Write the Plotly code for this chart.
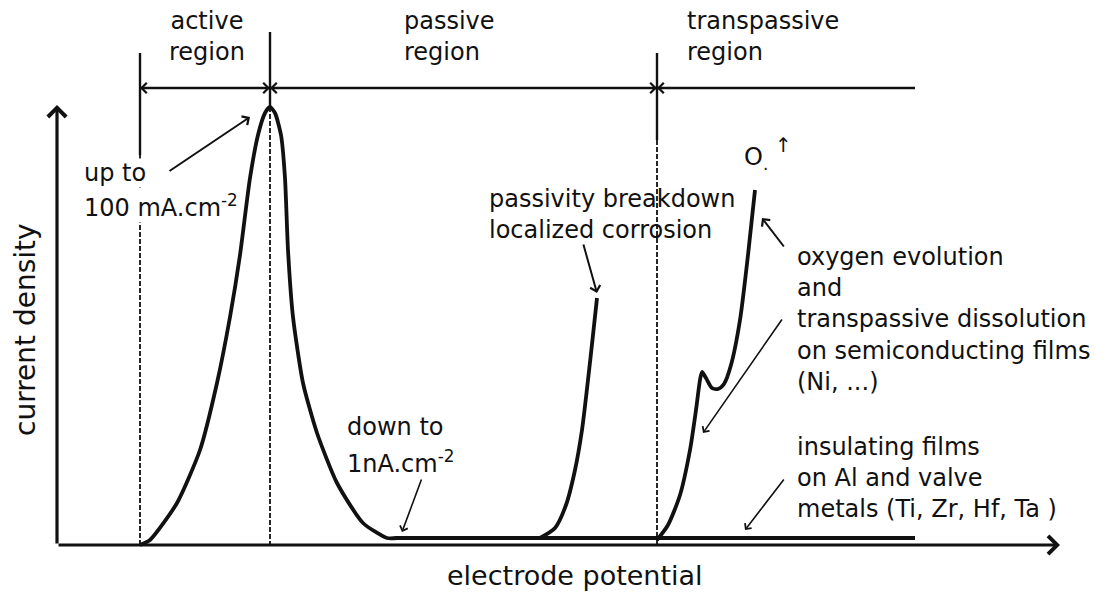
import plotly.graph_objects as go

# ---- data (arbitrary units: potential E, current density J) ----
active_E = [83, 93, 120, 143, 160, 173, 183, 193, 201, 208, 213, 218, 224, 228, 231, 236, 246, 260, 280, 306, 330, 340]
active_J = [0, 5, 42, 95, 162, 228, 290, 367, 410, 432, 438, 432, 410, 367, 295, 228, 162, 112, 62, 22, 7, 7]

passive_E = [338, 858]
passive_J = [7, 7]

breakdown_E = [483, 498, 509, 518, 525, 531, 536, 540]
breakdown_J = [7, 17, 40, 75, 115, 165, 210, 247]

transpassive_E = [600, 611, 623, 633, 639, 643, 645, 649, 655, 661, 667, 674, 683, 691, 698]
transpassive_J = [5, 20, 50, 95, 135, 165, 173, 167, 157, 156, 161, 180, 225, 290, 355]

boundary_E = [83, 213, 600]          # active / passive / transpassive boundaries
boundary_solid_top = [492, 513, 492]
boundary_solid_bottom = [390, 438, 405]
dim_line_J = 457
dim_line_end = 858

region_labels = ["active<br>region", "passive<br>region", "transpassive<br>region"]
region_label_E = [150, 345, 628]

axis_x_title = "electrode potential"
axis_y_title = "current density"

FONT = "DejaVu Sans"
BLACK = "#111111"

fig = go.Figure()

def line(x, y, w=3.5, dash=None, shape="spline", smoothing=0.7):
    fig.add_trace(go.Scatter(x=x, y=y, mode="lines", hoverinfo="skip",
                             line=dict(color=BLACK, width=w, dash=dash, shape=shape, smoothing=smoothing)))

# curves
line(active_E, active_J, 3.8, smoothing=0.6)
line(passive_E, passive_J, 3.8, shape="linear")
line(breakdown_E, breakdown_J, 3.8)
line(transpassive_E, transpassive_J, 3.8)

# region boundary lines
for e, t, b in zip(boundary_E, boundary_solid_top, boundary_solid_bottom):
    line([e, e], [t, b], 2.4, shape="linear")
    line([e, e], [b, 0], 1.8, dash="5px,2px", shape="linear")

# dimension line
line([boundary_E[0], dim_line_end], [dim_line_J, dim_line_J], 2.4, shape="linear")

ann = []
def arrow(x0, y0, x1, y1, head=4, w=2, size=1.0):
    ann.append(dict(x=x1, y=y1, ax=x0, ay=y0, xref="x", yref="y", axref="x", ayref="y",
                    text="", showarrow=True, arrowhead=head, arrowwidth=w, arrowsize=size,
                    arrowcolor=BLACK, standoff=0, startstandoff=0))

def text(x, y, s, size=24, xanchor="left", yanchor="middle", angle=0, bg=None):
    d = dict(x=x, y=y, xref="x", yref="y", text=s, showarrow=False, xanchor=xanchor,
             yanchor=yanchor, align="left" if xanchor == "left" else "center",
             textangle=angle, font=dict(family=FONT, size=size, color=BLACK))
    if bg:
        d["bgcolor"] = bg
        d["borderpad"] = 0
    ann.append(d)

# axes with arrows
arrow(0, 0, 0, 440, head=4, w=3.2, size=1.1)
arrow(0, 0, 1003, 0, head=4, w=3.2, size=1.1)

# dimension arrows
arrow(150, dim_line_J, boundary_E[0], dim_line_J, head=4, w=2, size=1.0)
arrow(150, dim_line_J, boundary_E[1], dim_line_J, head=4, w=2, size=1.0)
arrow(300, dim_line_J, boundary_E[1], dim_line_J, head=4, w=2, size=1.0)
arrow(500, dim_line_J, boundary_E[2], dim_line_J, head=4, w=2, size=1.0)
arrow(700, dim_line_J, boundary_E[2], dim_line_J, head=4, w=2, size=1.0)

# region labels
text(region_label_E[0], 509, region_labels[0], xanchor="center")
text(region_label_E[1], 509, region_labels[1])
text(region_label_E[2], 509, region_labels[2])

# annotations
text(26, 372, "up to", bg="white")
text(26, 339, "100 mA.cm<sup>-2</sup>", bg="white")
arrow(111, 373, 193, 428, head=4, w=2)

text(430, 331, "passivity breakdown<br>localized corrosion")
arrow(526, 302, 540, 252, head=4, w=2)

text(288, 118, "down to")
text(288, 83, "1nA.cm<sup>-2</sup>")
arrow(365, 67, 345, 13, head=4, w=1.6)

text(685, 387, "O<sub>.</sub>", size=24)
text(716, 400, "↑", size=20)
arrow(728, 297, 705, 327, head=4, w=2)
text(738, 226, "oxygen evolution<br>and<br>transpassive dissolution<br>on semiconducting films<br>(Ni, ...)")
arrow(726, 227, 646, 112, head=4, w=1.6)

text(738, 67, "insulating films<br>on Al and valve<br>metals (Ti, Zr, Hf, Ta )")
arrow(728, 67, 688, 15, head=4, w=1.6)

# axis titles
text(-32, 215, axis_y_title, size=28, xanchor="center", angle=-90)
text(518, -30, axis_x_title, size=27, xanchor="center")

fig.update_layout(
    width=1111, height=592, margin=dict(l=0, r=0, t=0, b=0),
    paper_bgcolor="white", plot_bgcolor="white", showlegend=False,
    xaxis=dict(range=[-57, 1054], visible=False, fixedrange=True),
    yaxis=dict(range=[-47, 545], visible=False, fixedrange=True),
    annotations=ann,
)
fig.write_html("out.html", config={"displayModeBar": False},
               post_script="document.body.style.margin='0';document.body.style.overflow='hidden';")
